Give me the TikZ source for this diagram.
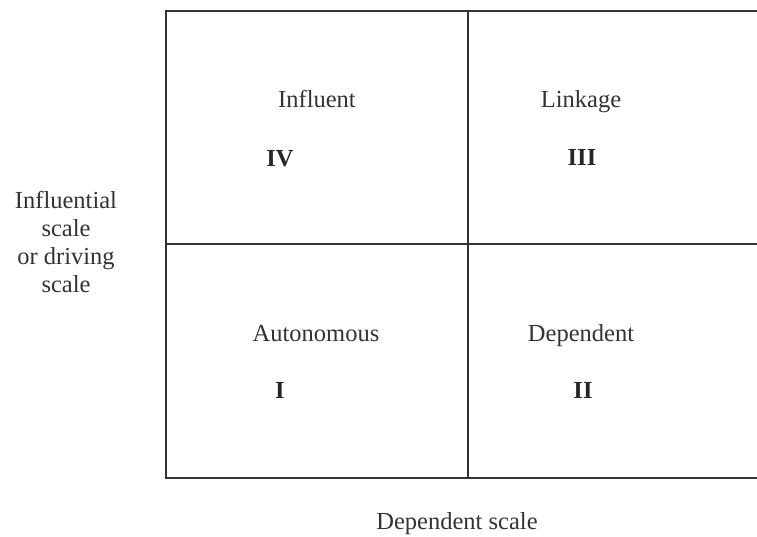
\documentclass[tikz,border=0pt]{standalone}
\usepackage{fontspec}
\setmainfont{Liberation Serif}
\begin{document}
\begin{tikzpicture}[x=1pt,y=-1pt,
  grid/.style={line width=2.8pt,draw=black!80},
  lbl/.style={font=\fontsize{24.5}{28}\selectfont,text=black!80,inner sep=0pt,anchor=base},
  num/.style={lbl,font=\fontsize{24.5}{28}\selectfont\bfseries,text=black!85}]
\useasboundingbox (0,0) rectangle (757,537);
% quadrant frame, open on the right
\coordinate (tl) at (166,11);
\coordinate (bl) at (166,478);
\coordinate (tr) at (760,11);
\coordinate (br) at (760,478);
\coordinate (mt) at (468,11);
\coordinate (mb) at (468,478);
\coordinate (ml) at (166,244);
\coordinate (mr) at (760,244);
\draw[grid] (tr) -- (tl) -- (bl) -- (br);
\draw[grid] (mt) -- (mb);
\draw[grid] (ml) -- (mr);
% quadrant labels
\node[lbl] (q4) at (317,108) {Influent};
\node[num] (n4) at (280,167) {IV};
\node[lbl] (q3) at (581,108) {Linkage};
\node[num] (n3) at (582,166) {III};
\node[lbl] (q1) at (316,341) {Autonomous};
\node[num] (n1) at (280,398) {I};
\node[lbl] (q2) at (581,341) {Dependent};
\node[num] (n2) at (583,398) {II};
% axis titles (a multi-line node's base is its last line)
\node[lbl] (xa) at (457,529) {Dependent scale};
\node[lbl,align=center] (ya) at (66,292) {Influential\\scale\\or driving\\scale};
\end{tikzpicture}
\end{document}
